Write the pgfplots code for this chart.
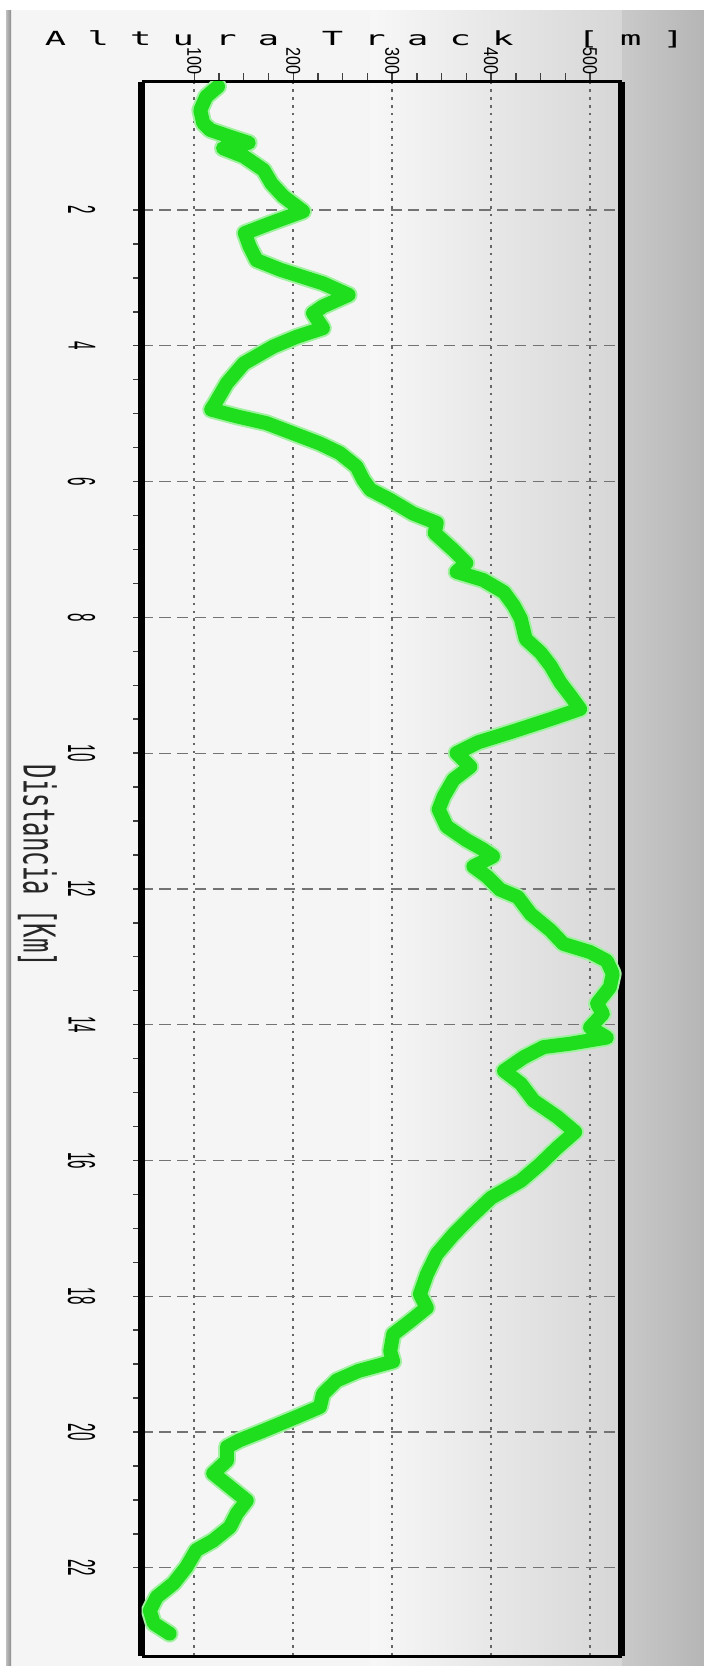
\documentclass[border=0pt]{standalone}
\usepackage{pgfplots}
\pgfplotsset{compat=1.18}
\usepackage{pgfplotstable}
\usepackage{graphicx}
\usepackage{fontspec}
\setmainfont{Liberation Sans}
\newfontfamily\monofont{DejaVu Sans Mono}
\definecolor{trk}{RGB}{30,222,30}
\definecolor{halo}{RGB}{160,242,160}

\pgfplotstableread{
d a
0.18 124
0.33 112
0.53 106
0.72 109
0.82 116
0.92 136
1.01 155
1.09 129
1.21 150
1.41 170
1.61 178
1.80 190
2.02 210
2.20 176
2.34 151
2.54 156
2.74 163
2.88 187
3.08 230
3.25 256
3.42 230
3.52 220
3.74 230
3.87 203
4.01 180
4.26 150
4.55 133
4.85 121
4.94 117
5.04 143
5.14 173
5.29 200
5.44 227
5.58 247
5.78 264
5.98 271
6.12 278
6.27 298
6.47 321
6.61 345
6.76 343
7.01 362
7.20 375
7.33 365
7.45 392
7.63 413
7.83 423
8.02 430
8.32 435
8.52 450
8.71 460
8.96 470
9.15 480
9.35 490
9.50 460
9.69 420
9.84 387
10.00 365
10.20 379
10.39 362
10.64 352
10.83 347
11.08 355
11.28 375
11.42 392
11.52 402
11.67 382
11.82 396
12.01 409
12.12 427
12.37 440
12.61 460
12.81 473
12.93 500
13.06 517
13.25 523
13.45 520
13.69 507
13.84 513
14.04 500
14.19 517
14.28 480
14.33 453
14.48 433
14.68 413
14.87 430
15.12 443
15.36 467
15.58 485
15.81 467
16.05 450
16.30 430
16.55 400
16.84 379
17.09 362
17.38 345
17.68 335
17.97 328
18.17 335
18.37 318
18.56 301
18.81 298
18.96 301
19.10 266
19.24 244
19.44 230
19.63 227
19.78 203
19.98 170
20.12 146
20.22 133
20.42 133
20.61 119
20.81 136
21.01 153
21.20 143
21.40 136
21.60 119
21.74 102
21.99 92
22.23 79
22.43 62
22.63 55
22.82 59
22.97 75
}\track

\begin{document}
\begin{tikzpicture}
\begin{scope}[x=0.36pt,y=-0.36pt]
\useasboundingbox (0,0) rectangle (704,1666);
\fill[white] (0,0) rectangle (704,1666);
\fill[black!4] (11,10) rectangle (704,1666);
\shade[left color=black!3, right color=black!16] (370,10) rectangle (622,1666);
\shade[left color=black!21, right color=black!29] (622,10) rectangle (704,1666);
\shade[left color=black!25, right color=black!45] (6,10) rectangle (11,1666);
\node[font=\monofont\fontsize{7pt}{7.5pt}\selectfont, inner sep=0pt] at (364.5,39)
  {\scalebox{1.82}[1]{A l t u r a\ \ T r a c k\ \ \ [ m ]}};
\node[rotate=-90, font=\monofont\fontsize{15.8pt}{16pt}\selectfont, inner sep=0pt, text=black!85] at (37.5,866)
  {\scalebox{0.547}[1]{Distancia [Km]}};
\end{scope}
\begin{axis}[
  at={(51.01pt,-29.41pt)}, anchor=north west,
  scale only axis, width=172.8pt, height=566.75pt,
  xmin=46.8, xmax=532, ymin=0.11, ymax=23.30, y dir=reverse,
  xtick={100,200,300,400,500}, ytick={2,4,...,22},
  minor x tick num=3, minor y tick num=3,
  xtick pos=right, xticklabel pos=right,
  ytick pos=left, yticklabel pos=left,
  tick align=outside,
  major tick length=3pt, minor tick length=3pt,
  tick style={black!75, line width=0.5pt},
  grid=major,
  x grid style={black!60, line width=0.8pt, dash pattern=on 0.9pt off 1.9pt},
  y grid style={black!55, line width=0.45pt, dash pattern=on 4pt off 2.4pt},
  separate axis lines,
  x axis line style={line width=1.1pt},
  y axis line style={line width=2.4pt},
  /pgf/number format/assume math mode=true,
  xticklabel={\scalebox{0.81}[1]{\pgfmathprintnumber{\tick}}},
  yticklabel={\scalebox{0.39}[1]{\pgfmathprintnumber{\tick}}},
  xticklabel style={rotate=-90, anchor=east, font=\fontsize{7.2pt}{8pt}\selectfont, inner sep=0pt},
  yticklabel style={rotate=-90, anchor=north, font=\fontsize{14pt}{14pt}\selectfont, inner sep=0pt},
  xticklabel shift=-0.5pt, yticklabel shift=13.5pt,
]
\addplot[halo, line width=6.4pt, line join=round, line cap=round] table[x=a,y=d]{\track};
\addplot[trk, line width=5pt, line join=round, line cap=round] table[x=a,y=d]{\track};
\end{axis}
\end{tikzpicture}
\end{document}
